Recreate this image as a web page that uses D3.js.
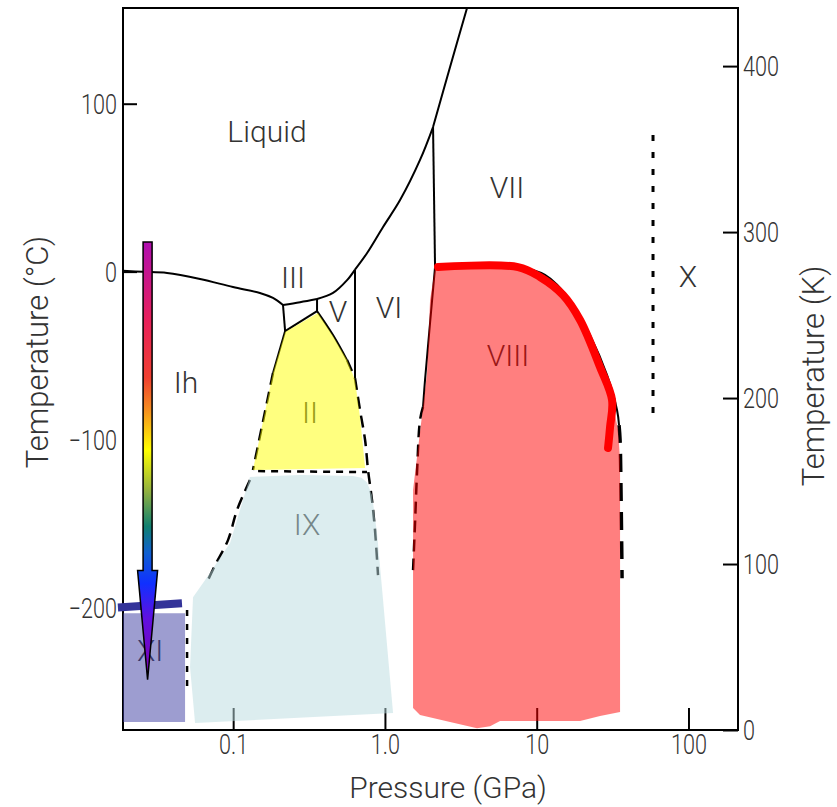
<!DOCTYPE html>
<html>
<head>
<meta charset="utf-8">
<title>Phase diagram of water</title>
<style>
  body { margin: 0; background: #fff; }
  svg text { font-family: Roboto, "Helvetica Neue", "Liberation Sans", sans-serif; font-weight: 300; fill: #333; }
</style>
</head>
<body>
<script src="https://cdn.jsdelivr.net/npm/d3@7/dist/d3.min.js"></script>
<script>

// axis ticks
var pressureTicks = [0.1, 1, 10, 100];
var pressureTickLabels = ["0.1", "1.0", "10", "100"];
var celsiusTicks = [100, 0, -100, -200];
var kelvinTicks = [0, 100, 200, 300, 400];

// phase boundaries, points are [pressure GPa, temperature °C]
var ihLiquid = [[0.0188, 0.5], [0.0255, -0.1], [0.0367, -0.8], [0.0605, -4.4], [0.0998, -9.2], [0.150, -12.7], [0.183, -15.7], [0.213, -19.9]];
var iiiLiquid = [[0.213, -19.9], [0.276, -18.2], [0.357, -16.3]];
var vLiquid = [[0.357, -16.3], [0.455, -12.7], [0.563, -5.1], [0.635, 1.2]];
var viLiquid = [[0.635, 1.2], [0.763, 11.1], [0.972, 26.6], [1.258, 42.6], [1.703, 66.5], [2.075, 86.1]];
var viiLiquid = [[2.075, 86.1], [2.686, 121.9], [3.475, 157]];
var ihIII = [[0.213, -19.9], [0.220, -35.4]];
var iiiII = [[0.220, -35.4], [0.357, -23.5]];
var iiiV = [[0.357, -16.3], [0.357, -23.5]];
var vII = [[0.357, -23.5], [0.455, -37.8], [0.563, -52.7]];
var vIIDashed = [[0.563, -52.7], [0.635, -63.4]];
var vVI = [[0.635, 1.2], [0.635, -63.4]];
var viIIandIX = [[0.635, -63.4], [0.685, -82.4], [0.740, -100.3], [0.774, -118.2], [0.822, -136.1], [0.860, -154.0], [0.9005, -180.8]];
var ihII = [[0.220, -35.4], [0.183, -60.4]];
var ihIIDashed = [[0.183, -60.4], [0.135, -118.2]];
var iiIX = [[0.146, -118.8], [0.762, -119.4]];
var ihIX = [[0.129, -124.1], [0.106, -142], [0.0925, -159.9], [0.076, -174.8], [0.0673, -184.9]];
var viVII = [[2.075, 86.1], [2.139, 2.7]];
var viVIII = [[2.139, 2.7], [1.983, -30.6], [1.837, -64.6], [1.782, -80.6]];
var viVIIIDashed = [[1.782, -80.6], [1.703, -88.4], [1.627, -120], [1.579, -149.8], [1.532, -177.8]];
var viiVIII = [[7.534, 2.7], [11.34, -2.0], [16.59, -16.9], [22.46, -37.8], [29.08, -61.6], [33.83, -82.4], [34.88, -91.4]];
var viiiX = [[34.88, -91.4], [35.42, -100], [36.0, -136], [36.51, -182.6]];
var viiX = [[58.4, 81.4], [58.4, -88.4]];
var xiIX = [[0.0497, -201.6], [0.0497, -249.2]];

// highlighted lines
var xiTop = [[0.0174, -200], [0.046, -197.5]];
var viiViiiRed = [[2.238, 2.7], [7.534, 2.7], [10.52, -3.2], [14.91, -13.9], [19.31, -28.8], [26.14, -56.8], [31.37, -76.5], [30.43, -92.6], [29.52, -105.0]];

// shaded phase regions
var regionII = [[0.362, -24.7], [0.455, -38.4], [0.563, -52.7], [0.635, -64.6], [0.685, -86.6], [0.717, -104.5], [0.740, -117.0], [0.135, -118.2], [0.183, -60.4], [0.220, -36.0]];
var regionIX = [[0.129, -122.3], [0.276, -121.1], [0.616, -121.7], [0.700, -122.8], [0.760, -125.5], [0.822, -133.1], [0.887, -155.8], [0.972, -195.7], [1.131, -262.9], [0.0561, -268.9], [0.0520, -235.7], [0.0544, -193.9], [0.0673, -182.0], [0.0954, -161.7]];
var regionVIII = [[2.139, 2.1], [7.534, 2.1], [10.52, -2.6], [14.91, -12.7], [19.31, -27.6], [26.14, -55.6], [31.37, -76.5], [34.36, -94.3], [35.42, -112.2], [35.42, -262.3], [26.14, -264.7], [19.31, -267.7], [5.733, -267.7], [4.93, -270.7], [4.045, -271.9], [2.686, -268.3], [1.703, -264.1], [1.532, -259.9], [1.532, -130.1], [1.627, -110.4], [1.782, -80.6], [1.894, -60.4], [1.983, -16.9]];
var regionXI = [[0.0188, -203.5], [0.0482, -203.5], [0.0482, -268.3], [0.0188, -268.3]];

// phase names
var phaseNames = ["Liquid", "III", "V", "VI", "Ih", "II", "IX", "XI", "VII", "VIII", "X"];
var phasePressure = [0.167, 0.248, 0.491, 1.064, 0.0489, 0.321, 0.307, 0.0284, 6.376, 6.474, 99.3];
var phaseTemp = [83.7, -3.8, -23.5, -21.1, -66.3, -84.2, -150.9, -225.4, 49.8, -49.7, -3.2];

// cooling arrow
var arrowPressure = 0.0273;
var arrowTemps = [17.6, -178, -243];

var width = 837, height = 807;

var svg = d3.select("body").append("svg")
	.attr("width", width)
	.attr("height", height);

var x = d3.scaleLog().domain([0.0188, 212]).range([123, 738]);
var yC = d3.scaleLinear().domain([-273, 157]).range([730, 8]);
var yK = d3.scaleLinear().domain([0, 435]).range([730, 8]);

var line = d3.line()
	.x(function(d) { return x(d[0]); })
	.y(function(d) { return yC(d[1]); })
	.curve(d3.curveCatmullRom.alpha(0.5));

var area = d3.line()
	.x(function(d) { return x(d[0]); })
	.y(function(d) { return yC(d[1]); })
	.curve(d3.curveLinearClosed);

// gradient for the arrow
var grad = svg.append("defs").append("linearGradient")
	.attr("id", "cool")
	.attr("gradientUnits", "userSpaceOnUse")
	.attr("x1", 0).attr("x2", 0)
	.attr("y1", yC(arrowTemps[0])).attr("y2", yC(arrowTemps[2]));
[[0, "#b00eb0"], [0.18, "#e8205a"], [0.31, "#f04030"], [0.38, "#f58a20"], [0.475, "#ffff00"],
 [0.57, "#90b040"], [0.65, "#108070"], [0.71, "#1060d0"], [0.78, "#1030ff"], [0.86, "#6010e0"], [1, "#8000b0"]]
	.forEach(function(s) {
		grad.append("stop").attr("offset", s[0]).attr("stop-color", s[1]);
	});

// axes
var xAxis = d3.axisBottom(x)
	.tickValues(pressureTicks)
	.tickFormat(function(d, i) { return pressureTickLabels[i]; })
	.tickSizeInner(-22).tickSizeOuter(0).tickPadding(5);

var gx = svg.append("g")
	.attr("transform", "translate(0,730)")
	.call(xAxis);

var yAxisL = d3.axisLeft(yC)
	.tickValues(celsiusTicks)
	.tickSizeInner(-14).tickSizeOuter(0).tickPadding(6);

var gyl = svg.append("g")
	.attr("transform", "translate(123,0)")
	.call(yAxisL);
gyl.selectAll(".tick").filter(function(d) { return d < 0; }).select("line").remove();

var yAxisR = d3.axisRight(yK)
	.tickValues(kelvinTicks)
	.tickSizeInner(-15).tickSizeOuter(0).tickPadding(5);

var gyr = svg.append("g")
	.attr("transform", "translate(738,0)")
	.call(yAxisR);

[gx, gyl, gyr].forEach(function(g) {
	g.select(".domain").remove();
	g.selectAll(".tick line").attr("stroke", "#000").attr("stroke-width", 2);
	g.selectAll(".tick text")
		.attr("font-size", 27)
		.attr("font-family", null)
		.attr("fill", "#333");
});
gx.selectAll(".tick text").attr("transform", "scale(0.8,1)");
gyl.selectAll(".tick text").attr("x", -6 / 0.8).attr("dy", "0.36em").attr("transform", "scale(0.8,1)");
gyr.selectAll(".tick text").attr("x", 5 / 0.8).attr("dy", "0.36em").attr("transform", "scale(0.8,1)");

svg.append("rect")
	.attr("x", 123).attr("y", 8)
	.attr("width", 615).attr("height", 722)
	.attr("fill", "none")
	.attr("stroke", "#000")
	.attr("stroke-width", 2);

// axis titles
svg.append("text")
	.attr("x", 448).attr("y", 798)
	.attr("text-anchor", "middle")
	.attr("font-size", 30)
	.text("Pressure (GPa)");

svg.append("text")
	.attr("transform", "translate(48,352) rotate(-90)")
	.attr("text-anchor", "middle")
	.attr("font-size", 31)
	.text("Temperature (°C)");

svg.append("text")
	.attr("transform", "translate(824,376) rotate(-90)")
	.attr("text-anchor", "middle")
	.attr("font-size", 31)
	.text("Temperature (K)");

// boundaries
var solid = [ihLiquid, iiiLiquid, vLiquid, viLiquid, viiLiquid, ihIII, iiiII, iiiV, vII, vVI, ihII, viVII, viVIII, viiVIII];
var dashed = [vIIDashed, viIIandIX, ihIIDashed, ihIX, viVIIIDashed];

svg.selectAll("path.solid")
	.data(solid)
	.enter().append("path")
	.attr("class", "solid")
	.attr("d", line)
	.attr("fill", "none")
	.attr("stroke", "#000")
	.attr("stroke-width", 2);

svg.selectAll("path.dashed")
	.data(dashed)
	.enter().append("path")
	.attr("class", "dashed")
	.attr("d", line)
	.attr("fill", "none")
	.attr("stroke", "#000")
	.attr("stroke-width", 2.5)
	.attr("stroke-dasharray", "12,7");

svg.append("path").attr("d", line(viiiX))
	.attr("fill", "none").attr("stroke", "#000")
	.attr("stroke-width", 3.5).attr("stroke-dasharray", "18,11");

svg.append("path").attr("d", line(iiIX))
	.attr("fill", "none").attr("stroke", "#000")
	.attr("stroke-width", 2.5).attr("stroke-dasharray", "7,6");

svg.append("path").attr("d", line(xiIX))
	.attr("fill", "none").attr("stroke", "#000")
	.attr("stroke-width", 2.5).attr("stroke-dasharray", "6,8");

svg.append("path").attr("d", line(viiX))
	.attr("fill", "none").attr("stroke", "#000")
	.attr("stroke-width", 3).attr("stroke-dasharray", "6,11");

// phase names
svg.selectAll("text.phase")
	.data(phaseNames)
	.enter().append("text")
	.attr("class", "phase")
	.attr("x", function(d, i) { return x(phasePressure[i]); })
	.attr("y", function(d, i) { return yC(phaseTemp[i]); })
	.attr("text-anchor", "middle")
	.attr("dominant-baseline", "central")
	.attr("font-size", 30)
	.text(function(d) { return d; });

// translucent phase fields
var fills = [
	{pts: regionII, color: "#ffff00"},
	{pts: regionIX, color: "#b9dbdf"},
	{pts: regionVIII, color: "#ff0000"},
	{pts: regionXI, color: "#3b3ba1"}
];

svg.selectAll("path.region")
	.data(fills)
	.enter().append("path")
	.attr("class", "region")
	.attr("d", function(d) { return area(d.pts); })
	.attr("fill", function(d) { return d.color; })
	.attr("fill-opacity", 0.5)
	.attr("stroke", "none");

// highlighted lines
svg.append("path").attr("d", line(xiTop))
	.attr("fill", "none").attr("stroke", "#333399").attr("stroke-width", 8);

svg.append("path").attr("d", line(viiViiiRed))
	.attr("fill", "none").attr("stroke", "#ff0000")
	.attr("stroke-width", 8).attr("stroke-linecap", "round");

// cooling arrow
var ax = x(arrowPressure),
	a0 = yC(arrowTemps[0]), a1 = yC(arrowTemps[1]), a2 = yC(arrowTemps[2]);
svg.append("path")
	.attr("d", "M" + (ax - 4.5) + "," + a0 + "H" + (ax + 4.5) + "V" + a1 + "H" + (ax + 10) +
		"L" + ax + "," + a2 + "L" + (ax - 10) + "," + a1 + "H" + (ax - 4.5) + "Z")
	.attr("fill", "url(#cool)")
	.attr("stroke", "#000")
	.attr("stroke-width", 1.5);

</script>
</body>
</html>
